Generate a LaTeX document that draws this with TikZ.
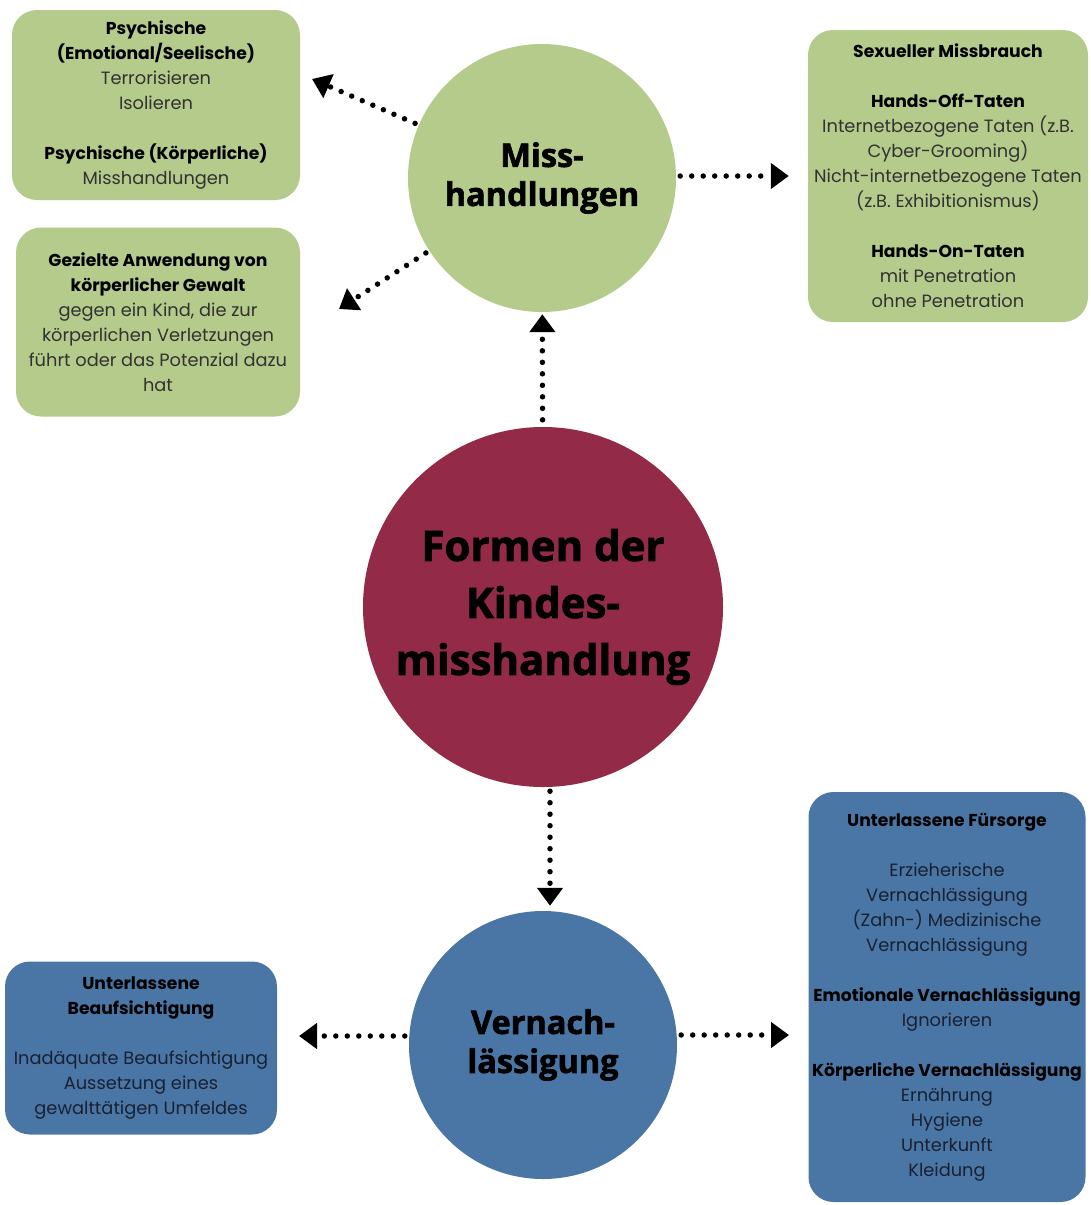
\documentclass[tikz,border=0pt]{standalone}
\usepackage{fontspec}
\setmainfont{Poppins}
\newfontfamily\titlefont{Open Sans}[BoldFeatures={FakeBold=1.8}]
\usepackage{tikz}
\usetikzlibrary{arrows.meta}
\definecolor{sage}{RGB}{181,203,139}
\definecolor{crimson}{RGB}{147,42,72}
\definecolor{steel}{RGB}{74,118,165}
\definecolor{inkgray}{RGB}{50,50,50}
\definecolor{inknavy}{RGB}{25,32,50}
\newcommand{\boxtitle}[1]{\textcolor{black}{\bfseries\fontsize{17.2}{25}\selectfont #1}}

\begin{document}
\begin{tikzpicture}[x=1pt,y=-1pt,
    topic/.style={circle,minimum size=268pt,inner sep=0pt,align=center,
      font=\titlefont\bfseries\fontsize{32.5}{39}\selectfont,text=black},
    infobox/.style={rounded corners=25pt,inner sep=0pt,align=center,
      font=\fontsize{17.8}{25}\selectfont},
    dotarrow/.style={line width=5.5pt,line cap=round,dash pattern=on 0pt off 11.5pt,
      -{Triangle[length=18pt,width=25pt]}}]
    \useasboundingbox (0,0) rectangle (1090,1205);
    % circles
    \node[topic,fill=crimson,minimum size=360pt,font=\titlefont\bfseries\fontsize{42}{57}\selectfont] (formen) at (543,607) {Formen der\\Kindes-\\misshandlung};
    \node[topic,fill=sage] (miss) at (542,178) {Miss-\\handlungen};
    \node[topic,fill=steel] (verna) at (543,1045) {Vernach-\\lässigung};
    % boxes
    \node[infobox,fill=sage,text=inkgray,minimum width=288pt,minimum height=190pt] (psych) at (156,105)
      {\boxtitle{Psychische}\\
       \boxtitle{(Emotional/Seelische)}\\
       Terrorisieren\\Isolieren\\[25pt]
       \boxtitle{Psychische (Körperliche)}\\
       Misshandlungen};
    \node[infobox,fill=sage,text=inkgray,minimum width=284pt,minimum height=189pt] (gewalt) at (158,322)
      {\boxtitle{Gezielte Anwendung von}\\
       \boxtitle{körperlicher Gewalt}\\
       gegen ein Kind, die zur\\körperlichen Verletzungen\\führt oder das Potenzial dazu\\hat};
    \node[infobox,fill=sage,text=inkgray,minimum width=280pt,minimum height=292pt] (sexuell) at (948,176)
      {\boxtitle{Sexueller Missbrauch}\\[25pt]
       \boxtitle{Hands-Off-Taten}\\
       Internetbezogene Taten (z.B.\\Cyber-Grooming)\\
       Nicht-internetbezogene Taten\\(z.B. Exhibitionismus)\\[25pt]
       \boxtitle{Hands-On-Taten}\\
       mit Penetration\\ohne Penetration};
    \node[infobox,fill=steel,text=inknavy,minimum width=272pt,minimum height=173pt] (aufsicht) at (141,1048)
      {\boxtitle{Unterlassene}\\
       \boxtitle{Beaufsichtigung}\\[25pt]
       Inadäquate Beaufsichtigung\\Aussetzung eines\\gewalttätigen Umfeldes};
    \node[infobox,fill=steel,text=inknavy,minimum width=277pt,minimum height=410pt] (fuersorge) at (947,997)
      {\boxtitle{Unterlassene Fürsorge}\\[25pt]
       Erzieherische\\Vernachlässigung\\(Zahn-) Medizinische\\Vernachlässigung\\[25pt]
       \boxtitle{Emotionale Vernachlässigung}\\
       Ignorieren\\[25pt]
       \boxtitle{Körperliche Vernachlässigung}\\
       Ernährung\\Hygiene\\Unterkunft\\Kleidung};
    % arrow tips
    \coordinate (tipA) at (312,79);
    \coordinate (tipB) at (339,309);
    \coordinate (tipC) at (299,1036);
    \coordinate (tipD) at (789,1035);
    % arrows
    \draw[dotarrow,shorten <=4pt] (miss) -- (tipA);
    \draw[dotarrow,shorten <=4pt] (miss) -- (tipB);
    \draw[dotarrow,shorten <=4pt,shorten >=19pt] (miss.east |- sexuell) -- (sexuell);
    \draw[dotarrow,shorten <=7pt,shorten >=2pt] (formen) -- (miss);
    \draw[dotarrow,shorten <=4pt,shorten >=5pt] ([xshift=7pt]formen.south) -- ([xshift=7pt]verna.north);
    \draw[dotarrow,shorten <=4pt] (verna.west |- tipC) -- (tipC);
    \draw[dotarrow,shorten <=4pt] (verna.east |- tipD) -- (tipD);
\end{tikzpicture}
\end{document}
